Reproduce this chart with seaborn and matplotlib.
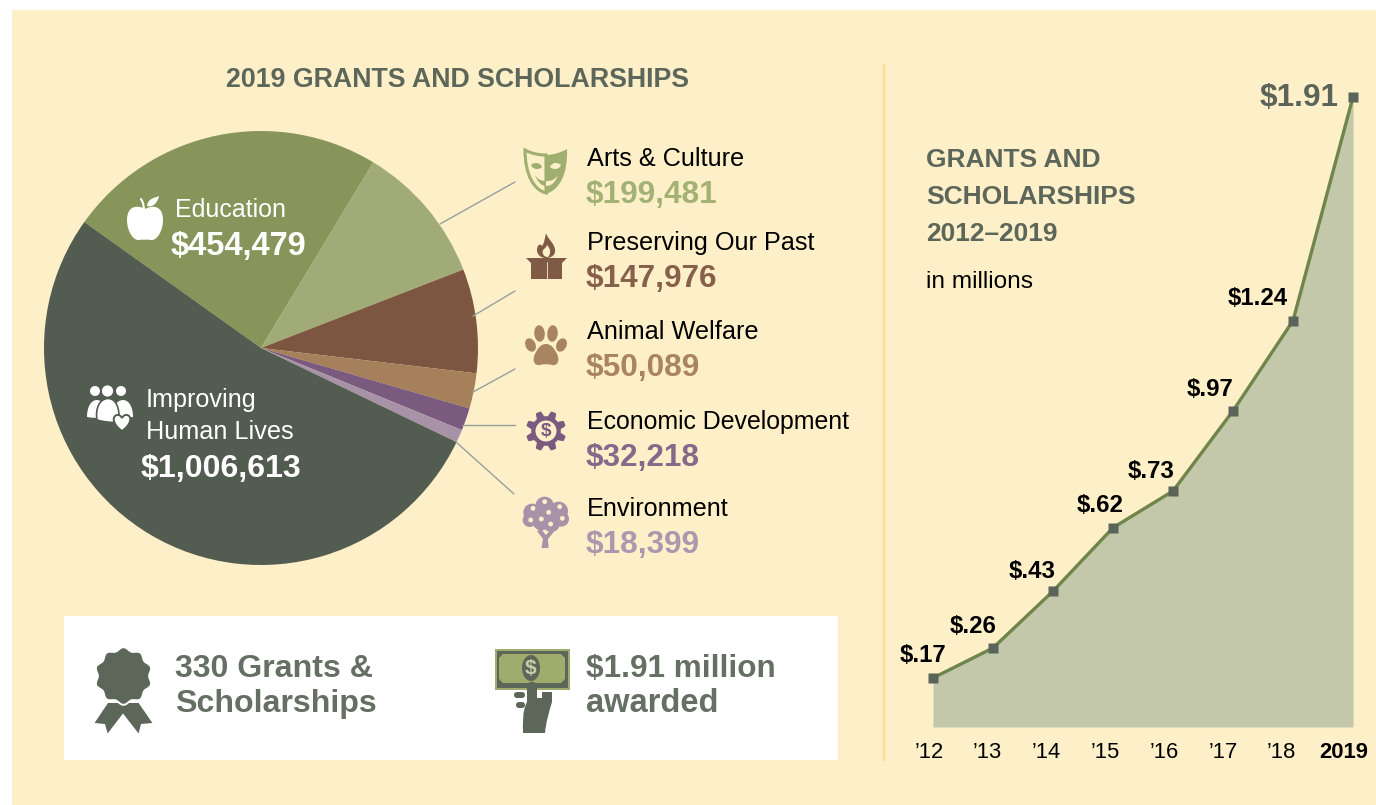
import numpy as np
import pandas as pd
import seaborn as sns
import matplotlib
matplotlib.use("Agg")
import matplotlib.pyplot as plt
from matplotlib.patches import Rectangle, Circle, Ellipse, Polygon, PathPatch, FancyBboxPatch
from matplotlib.path import Path
from matplotlib.transforms import ScaledTranslation

# ---- data ----
pie_categories = ["Education", "Arts & Culture", "Preserving Our Past", "Animal Welfare",
                  "Economic Development", "Environment", "Improving Human Lives"]
pie_values = [454479, 199481, 147976, 50089, 32218, 18399, 1006613]
pie_colors = ["#87955B", "#A0AB78", "#7C5640", "#A67F5B", "#7A5A7E", "#A892A8", "#535C50"]
years = [2012, 2013, 2014, 2015, 2016, 2017, 2018, 2019]
year_labels = ["’12", "’13", "’14", "’15", "’16", "’17", "’18", "2019"]
totals = [0.17, 0.26, 0.43, 0.62, 0.73, 0.97, 1.24, 1.91]
total_labels = ["$.17", "$.26", "$.43", "$.62", "$.73", "$.97", "$1.24", "$1.91"]

W, H = 1376, 805
CREAM = "#FDEFC8"
DARK = "#5C6659"
FONT = "Liberation Sans"

sns.set_theme(style="white")
plt.rcParams["font.family"] = [FONT, "DejaVu Sans"]

fig = plt.figure(figsize=(W / 100, H / 100), dpi=100, facecolor="white")

def px_axes(x0, y0, x1, y1, **kw):
    return fig.add_axes([x0 / W, 1 - y1 / H, (x1 - x0) / W, (y1 - y0) / H], **kw)

# background canvas in pixel coordinates
back = px_axes(0, 0, W, H)
back.set_xlim(0, W); back.set_ylim(H, 0); back.axis("off")
back.add_patch(Rectangle((12, 10), W - 12, H - 10, fc=CREAM, ec="none"))
back.add_patch(Rectangle((64, 616), 774, 144, fc="white", ec="none"))
back.plot([884, 884], [65, 760], color="#FADF91", lw=1.6)

# ---- pie ----
pie_ax = px_axes(44, 131, 478, 565)
pie_ax.pie(pie_values, colors=pie_colors, startangle=144.5, counterclock=False, radius=1.0,
           wedgeprops={"linewidth": 0, "edgecolor": "none"})
pie_ax.set_xlim(-1, 1); pie_ax.set_ylim(-1, 1)
pie_ax.patch.set_alpha(0)

# overlay canvas in pixel coordinates
bg = px_axes(0, 0, W, H)
bg.set_xlim(0, W); bg.set_ylim(H, 0); bg.axis("off"); bg.patch.set_alpha(0)

def px(pt):
    return pt * 0.72

def label(x, y, s, size, color="black", weight="normal", ha="left"):
    bg.text(x, y, s, fontsize=px(size), color=color, fontweight=weight, ha=ha, va="baseline")

for (a, b, c, d) in [(440, 224, 515, 182), (473, 316, 515, 291), (473, 392, 515, 369),
                     (462, 425, 515, 425), (456, 442, 514, 494)]:
    bg.plot([a, c], [b, d], color="#98A09C", lw=1.0)

label(226, 87, "2019 GRANTS AND SCHOLARSHIPS", 26.7, DARK, "bold")
label(175, 217, "Education", 25.0, "white")
label(171, 255, "$454,479", 32.6, "white", "bold")
label(146, 407, "Improving", 25.2, "white")
label(146, 439, "Human Lives", 25.2, "white")
label(141, 477, "$1,006,613", 32.2, "white", "bold")

rows = [(166, 203, 0, "#A3B274"), (250, 287, 1, "#86604A"), (339, 376, 2, "#A98460"),
        (429, 466, 3, "#84698A"), (516, 553, 4, "#AC98AE")]
names = pie_categories[1:6]
vals = pie_values[1:6]
for (y1, y2, i, c) in rows:
    label(587, y1, names[i], 24.9 if i == 3 else 25.3)
    label(586, y2, f"${vals[i]:,}", 31.5, c, "bold")

label(175, 677, "330 Grants &", 32.1, "#666F63", "bold")
label(175, 712, "Scholarships", 32.1, "#666F63", "bold")
label(586, 677, "$1.91 million", 31.5, "#666F63", "bold")
label(586, 712, "awarded", 32.6, "#666F63", "bold")

label(926, 167, "GRANTS AND", 26.4, DARK, "bold")
label(926, 204, "SCHOLARSHIPS", 26.4, DARK, "bold")
label(926, 241, "2012–2019", 26.4, DARK, "bold")
label(926, 288, "in millions", 24.4, "black")

# ---- icons ----
def poly(pts, fc, ec="none", lw=0, z=5):
    bg.add_patch(Polygon(pts, closed=True, fc=fc, ec=ec, lw=lw, zorder=z))

def blob(start, segs, fc, ec="none", lw=0, z=5):
    """closed shape from a start point and (c1, c2, end) cubic segments"""
    verts = [start]
    codes = [Path.MOVETO]
    for s in segs:
        verts += list(s)
        codes += [Path.CURVE4] * 3
    verts.append(start)
    codes.append(Path.CLOSEPOLY)
    bg.add_patch(PathPatch(Path(verts, codes), fc=fc, ec=ec, lw=lw, zorder=z))

def disc(cx, cy, r, fc, z=5, ec="none", lw=0):
    bg.add_patch(Circle((cx, cy), r, fc=fc, ec=ec, lw=lw, zorder=z))

# mask
GM = "#A0AE70"
blob((525, 150), [((532, 154), (540, 155), (546, 155)), ((546, 168), (546, 181), (546, 193)),
                  ((534, 190), (525, 175), (525, 150))], "none", ec=GM, lw=2.2)
blob((567, 149), [((560, 153), (552, 155), (546, 155)), ((546, 168), (546, 181), (546, 194)),
                  ((559, 190), (568, 175), (567, 149))], GM)
blob((531, 165), [((534, 162), (540, 162), (542, 167)), ((539, 170), (533, 170), (531, 165))], GM)
blob((561, 165), [((558, 162), (552, 162), (550, 167)), ((553, 170), (559, 170), (561, 165))], CREAM, z=6)
blob((535, 175), [((538, 180), (542, 181), (546, 181)), ((546, 182), (546, 184), (546, 186)),
                  ((541, 186), (537, 181), (535, 175))], GM)
blob((558, 175), [((555, 180), (551, 181), (546, 181)), ((546, 182), (546, 184), (546, 186)),
                  ((552, 186), (556, 181), (558, 175))], CREAM, z=6)

# box with flame
BR = "#7F5A45"
poly([(526, 258), (567, 258), (562, 263), (562, 279), (531, 279), (531, 263)], BR)
bg.plot([546.5, 546.5], [262, 279], color=CREAM, lw=0.6, zorder=6)
blob((546, 233), [((548, 240), (556, 244), (555, 252)), ((554, 257), (549, 258), (546, 258)),
                  ((541, 258), (537, 255), (537, 250)), ((537, 245), (540, 243), (542, 246)),
                  ((544, 244), (545, 238), (546, 233))], BR)
blob((547, 245), [((551, 249), (551, 254), (548, 257)), ((543, 257), (542, 253), (543, 250)),
                  ((544, 249), (546, 248), (547, 245))], CREAM, z=6)

# paw
PW = "#A98460"
for (cx, cy, w, h, a) in [(530.5, 345, 10, 14, -25), (539.5, 333.5, 10.5, 16.5, -5),
                          (552.5, 333.5, 10.5, 16.5, 5), (561.5, 345, 10, 14, 25)]:
    bg.add_patch(Ellipse((cx, cy), w, h, angle=a, fc=PW, ec="none", zorder=5))
blob((546, 344), [((552, 344), (555, 350), (557, 354)), ((560, 360), (558, 366), (552, 365)),
                  ((549, 364), (543, 364), (540, 365)), ((534, 366), (532, 360), (535, 354)),
                  ((537, 350), (540, 344), (546, 344))], PW)

# gear
PU = "#7A5A7E"
th = np.linspace(0, 2 * np.pi, 361)
r = 17.5 + 2.7 * np.clip(2.0 * np.cos(8 * (th + np.pi / 8)), -1, 1)
poly(np.c_[546 + r * np.cos(th), 431 + r * np.sin(th)], PU)
disc(546, 431, 10.5, CREAM, z=6)
bg.text(546, 431.5, "$", color=PU, fontsize=px(19), fontweight="bold", ha="center", va="center", zorder=8)

# tree
TR = "#A892A8"
tree_crown = [(80, 303, 28), (42, 322, 26), (35, 345, 21), (122, 318, 28), (130, 342, 23),
              (70, 350, 26), (100, 355, 26), (85, 330, 34), (55, 330, 28), (110, 335, 28)]
for (cx, cy, rr) in tree_crown:
    disc(518 + cx / 3, 405 + cy / 3, rr / 3, TR)
poly([(541.5, 548), (548.5, 548), (548, 539), (554.5, 531), (551, 529), (546, 535), (541, 529), (537, 531), (543, 539)], TR)
for (cx, cy) in [(80, 290), (45, 310), (125, 305), (92, 322), (38, 345), (70, 342), (133, 340), (98, 357)]:
    disc(518 + cx / 3, 405 + cy / 3, 2.4, CREAM, z=6)

# apple (white)
blob((145, 209), [((138, 205), (127, 205), (127, 220)), ((127, 232), (134, 241), (139, 240)),
                  ((142, 239.5), (148, 239.5), (151, 240)), ((156, 241), (163, 232), (163, 220)),
                  ((163, 205), (152, 205), (145, 209))], "white")
bg.plot([141, 143, 144], [199, 203, 209], color="white", lw=1.5, zorder=5)
blob((147, 206), [((148, 198), (155, 198), (159, 196)), ((158, 202), (153, 208), (147, 206))], "white")

# people (white)
SL = "#535C50"
disc(95, 391, 5, "white"); disc(121, 391, 5, "white")
disc(107.5, 391, 7, SL, z=5.5); disc(107.5, 391, 5.6, "white", z=6)
blob((87, 417), [((87, 407), (91, 400), (97, 400)), ((103, 400), (104, 407), (104, 418)),
                 ((98, 418), (92, 418), (87, 417))], "white")
blob((133, 417), [((133, 407), (129, 400), (123, 400)), ((117, 400), (112, 407), (112, 418)),
                  ((120, 418), (126, 418), (133, 417))], "white")
blob((97, 420), [((95, 408), (100, 398.5), (108, 398.5)), ((116, 398.5), (120, 408), (119, 422)),
                 ((112, 423), (104, 422), (97, 420))], "white", ec=SL, lw=1.2, z=5.5)
blob((122, 431), [((112, 424), (112, 416), (117, 415)), ((119, 414.5), (121, 416), (122, 418)),
                  ((123, 416), (125, 414.5), (127, 415)), ((132, 416), (132, 424), (122, 431))],
     "white", ec=SL, lw=1.4, z=6)

# badge
BD = "#5C6659"
poly([(108, 703), (94.5, 723), (105, 724), (107.6, 733.5), (123, 713.5), (138.6, 733.5),
      (141, 724), (152.4, 723), (138.6, 703)], BD)
th = np.linspace(0, 2 * np.pi, 361)
r = 27.2 + 1.6 * np.cos(10 * th + np.pi)
poly(np.c_[123.5 + r * np.cos(th), 676 + r * np.sin(th)], BD, ec="white", lw=1.4, z=6)

# bill and hand
GB = "#A0AC6E"
bg.add_patch(Rectangle((494.5, 648.5), 75, 41, fc=GB, ec="none", zorder=5))
bg.add_patch(Rectangle((496.5, 650.5), 71, 37, fc=BD, ec="none", zorder=5))
poly([(503, 654), (561, 654), (565, 658), (565, 679), (561, 683), (503, 683), (499, 679), (499, 658)], GB, z=6)
bg.add_patch(Ellipse((531, 668), 18, 26, fc=BD, ec="none", zorder=7))
bg.text(531, 668.5, "$", color="#C8CFA8", fontsize=px(21), fontweight="bold", ha="center", va="center", zorder=8)
blob((523, 733), [((523, 722), (522, 712), (527, 702)), ((527, 695), (527, 690), (527, 687)),
                  ((527, 680), (537, 680), (537, 687)), ((537, 690), (537, 695), (537, 698)),
                  ((539, 698), (541, 698), (542, 698)), ((542, 696), (542, 694), (542, 692)),
                  ((546, 692), (549, 692), (552, 692)), ((552, 695), (552, 698), (552, 702)),
                  ((549, 712), (546, 722), (545, 733)), ((538, 733), (530, 733), (523, 733))], BD, z=9)
for (x0, y0, x1, y1) in [(514, 692, 525, 698), (516, 702, 525, 708)]:
    bg.add_patch(FancyBboxPatch((x0, y0), x1 - x0, y1 - y0, boxstyle="round,pad=0,rounding_size=3",
                                fc=BD, ec="none", zorder=9))

# ---- line / area chart ----
df = pd.DataFrame({"year": years, "total": totals, "label": total_labels})
ax = px_axes(933, 60, 1353, 727)
ax.patch.set_alpha(0)
ymin = 0.17 - (727 - 678) / (581 / 1.74)
ymax = 1.91 + (97 - 60) / (581 / 1.74)
ax.fill_between(df["year"], df["total"], ymin, color="#C2C8A9", lw=0, zorder=1)
sns.lineplot(data=df, x="year", y="total", ax=ax, color="#6F8549", lw=2.4, zorder=2, legend=False)
ax.plot(df["year"], df["total"], ls="none", marker="s", ms=7.8, mfc="#5A6459", mec="none", zorder=3, clip_on=False)
ax.set_xlim(2012, 2019); ax.set_ylim(ymin, ymax)
ax.set_xlabel(""); ax.set_ylabel("")
ax.set_yticks([])
sns.despine(ax=ax, left=True, bottom=True)
ax.set_xticks(years)
ax.set_xticklabels(year_labels, fontsize=px(22), color="black")
ax.tick_params(axis="x", length=0, pad=11)
for tl, dx in zip(ax.get_xticklabels(), [-4, -6, -7, -8, -9, -10, -12, -9]):
    tl.set_transform(tl.get_transform() + ScaledTranslation(dx / 100, 0, fig.dpi_scale_trans))
ax.get_xticklabels()[-1].set_fontweight("bold")
offs = [(-10, 22), (-20, 21), (-21, 20), (-13, 22), (-22, 20), (-23, 21), (-35, 22), (-54, -1)]
for i, (x, y, s) in enumerate(zip(df["year"], df["total"], df["label"])):
    big = i == len(years) - 1
    ax.annotate(s, (x, y), xytext=(offs[i][0] * 0.72, offs[i][1] * 0.72), textcoords="offset points",
                ha="center", va="center", fontweight="bold", annotation_clip=False,
                fontsize=px(31.5 if big else 24), color="#5A6459" if big else "black")

fig.savefig("out.png", dpi=100, facecolor="white")
